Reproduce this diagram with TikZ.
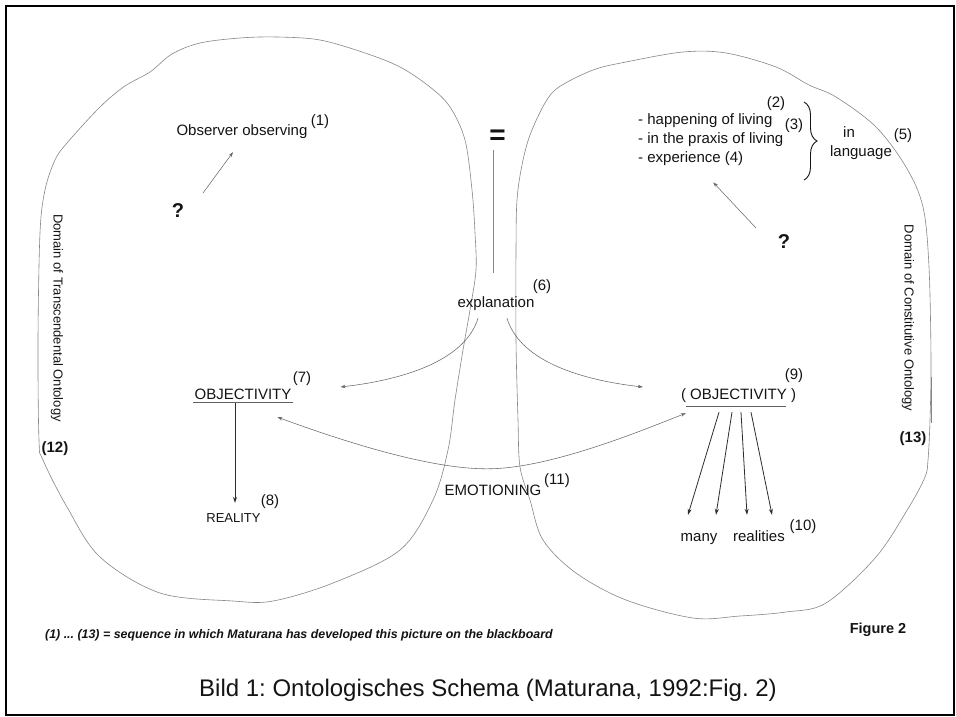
\documentclass[tikz,border=0pt]{standalone}
\usepackage{fontspec}
\setmainfont{Liberation Sans}
\usepackage{tikz}
\usetikzlibrary{arrows.meta, decorations.pathreplacing}
\frenchspacing
\definecolor{ink}{RGB}{20,20,20}
\definecolor{outline}{RGB}{135,135,135}
\definecolor{arrgray}{RGB}{105,105,105}
\definecolor{darkline}{RGB}{45,45,45}
\newcommand{\fsmain}{\fontsize{15}{19}\selectfont}
\newcommand{\fssmall}{\fontsize{13}{15}\selectfont}
\newcommand{\fsq}{\fontsize{20}{22}\selectfont\bfseries}
\newcommand{\fseq}{\fontsize{28}{30}\selectfont\bfseries}
\newcommand{\fsfoot}{\fontsize{12.4}{14}\selectfont\bfseries\itshape}
\newcommand{\fsfig}{\fontsize{14.5}{16}\selectfont\bfseries}
\newcommand{\fscap}{\fontsize{24}{28}\selectfont}
\tikzset{
  txt/.style={font=\fsmain, text=ink, inner sep=1pt,
    text height=11pt, text depth=3pt},
  listtxt/.style={font=\fsmain, text=ink, inner sep=1pt, align=left},
  smalltxt/.style={font=\fssmall, text=ink, inner sep=1pt,
    text height=9.5pt, text depth=2.5pt},
  numtxt/.style={font=\fsmain, text=ink, inner sep=0pt},
  boldnum/.style={font=\fsmain\bfseries, text=ink, inner sep=0pt},
  qmark/.style={font=\fsq, text=ink, inner sep=0pt,
    text height=15pt, text depth=0pt},
  eqsign/.style={font=\fseq, text=ink, inner sep=0pt},
  domlabel/.style={font=\fssmall, text=ink, inner sep=0pt, rotate=-90},
  blob/.style={draw=outline, line width=0.6pt},
  thinarrow/.style={draw=arrgray, line width=0.55pt,
    -{Stealth[length=5pt,width=3.5pt]}},
  arrow/.style={draw=darkline, line width=0.8pt,
    -{Stealth[length=6pt,width=4pt]}},
  dblarrow/.style={draw=arrgray, line width=0.55pt,
    {Stealth[length=5pt,width=3.5pt]}-{Stealth[length=5pt,width=3.5pt]}},
  uline/.style={draw=darkline!75, line width=1.3pt},
  eqline/.style={draw=outline, double=white, double distance=1pt,
    line width=0.5pt},
  bracestyle/.style={draw=ink, line width=0.9pt, decorate,
    decoration={brace, amplitude=13pt}},
  frame/.style={draw=black, line width=2.5pt},
}

\begin{document}
\begin{tikzpicture}[x=1pt, y=-1pt]

  \fill[white] (0,0) rectangle (956,717);
  \useasboundingbox (0,0) rectangle (956,717);
  \draw[frame] (6,6) rectangle (954,715);

  %% Domains
  \draw[blob] plot[smooth cycle, tension=0.55] coordinates {
    (172,54) (200,43) (240,38) (277,37) (320,40) (365,53) (400,67)
    (430,87) (450,107) (465,140) (472,190) (475,233) (476,270)
    (470,310) (463,350) (455,400) (448,450) (433,500) (400,550)
    (333,583) (273,601) (233,601) (160,593) (100,557) (67,507)
    (43,460) (39,440) (38,340) (40,233) (45,190) (55,160) (67,143)
    (100,107) (125,86) (150,72)};
  \draw[blob] plot[smooth cycle, tension=0.55] coordinates {
    (559,87) (593,70) (626,62) (683,52) (726,53) (776,67) (809,85)
    (836,97) (876,127) (906,167) (923,207) (929,267) (931,360)
    (930,420) (928,460) (925,477) (909,507) (876,557) (826,603)
    (786,612) (740,616) (693,618) (626,600) (576,573) (543,540)
    (530,500) (520,467) (518,420) (516,340) (516,250) (517,200)
    (522,165) (530,135) (545,103)};
  \draw[blob, line width=1pt] (931,377) -- (931,423);

  \node[domlabel] (domT) at (57,318) {Domain of Transcendental Ontology};
  \node[domlabel] (domC) at (908,318) {Domain of Constitutive Ontology};
  \node[boldnum, anchor=base] (n12) at (55,452) {(12)};
  \node[boldnum, anchor=base] (n13) at (913,442) {(13)};

  %% Left side
  \node[txt, anchor=base] (obs) at (242,135) {Observer observing};
  \node[numtxt, anchor=base] (n1) at (320,125) {(1)};
  \node[qmark, anchor=base] (q1) at (178,217) {?};

  \node[txt, anchor=base] (obj7) at (243,399) {OBJECTIVITY};
  \node[numtxt, anchor=base] (n7) at (302,382) {(7)};
  \node[smalltxt, anchor=base] (real) at (233.5,522) {REALITY};
  \node[numtxt, anchor=base] (n8) at (270,505) {(8)};

  %% Right side
  \node[listtxt, anchor=north west] (lst) at (637,112)
    {- happening of living\\- in the praxis of living\\- experience (4)};
  \node[numtxt, anchor=base] (n2) at (776,107) {(2)};
  \node[numtxt, anchor=base] (n3) at (794,129) {(3)};
  \coordinate (btop) at (804,102);
  \coordinate (bbot) at (804,180);
  \node[txt, anchor=base] (lin) at (849,137) {in};
  \node[txt, anchor=base] (llang) at (861,156) {language};
  \node[numtxt, anchor=base] (n5) at (903,139) {(5)};
  \node[qmark, anchor=base] (q2) at (784,248) {?};

  \node[txt, anchor=base] (obj9) at (738.5,399) {( OBJECTIVITY )};
  \node[numtxt, anchor=base] (n9) at (794,379) {(9)};
  \node[txt, anchor=base] (many) at (699,541) {many};
  \node[txt, anchor=base] (realities) at (759,541) {realities};
  \node[numtxt, anchor=base] (n10) at (803,530) {(10)};

  %% Middle
  \node[eqsign] (eq) at (497.5,137) {=};
  \node[txt, anchor=base] (exp) at (496,307) {explanation};
  \node[numtxt, anchor=base] (n6) at (542,290) {(6)};
  \node[txt, anchor=base] (emo) at (493,495) {EMOTIONING};
  \node[numtxt, anchor=base] (n11) at (557,484) {(11)};

  %% Connectors
  \draw[thinarrow] ([xshift=25pt,yshift=16.5pt]q1.center)
    -- ([xshift=-9pt,yshift=-13pt]obs.south);
  \draw[thinarrow] ([xshift=-28pt,yshift=12.5pt]q2.center)
    -- ([xshift=2.5pt,yshift=-16pt]lst.south);
  \draw[bracestyle] (btop) -- (bbot);
  \draw[eqline] ([xshift=-3.5pt,yshift=-13pt]eq.center)
    -- ([xshift=-2pt,yshift=22pt]exp.north);

  \draw[thinarrow] ([xshift=-18pt,yshift=-7pt]exp.south)
    .. controls (466,358) and (410,379) .. ([xshift=48pt,yshift=8pt]obj7.east);
  \draw[thinarrow] ([xshift=11pt,yshift=-7pt]exp.south)
    .. controls (519,358) and (573,379) .. ([xshift=-37pt,yshift=8pt]obj9.west);

  \draw[uline] ([yshift=1pt]obj7.south west) -- ([yshift=1pt]obj7.south east);
  \draw[uline] ([xshift=6pt,yshift=-3pt]obj9.south west)
    -- ([xshift=-11pt,yshift=-3pt]obj9.south east);

  \draw[arrow] ([xshift=-8pt]obj7.south) -- ([xshift=1.5pt,yshift=8.5pt]real.north);
  \foreach \sx/\tgt/\ex in {-19.5/many/-11, -6.5/many/17,
      2.5/realities/-12, 12.5/realities/13}
    \draw[arrow] ([xshift=\sx pt,yshift=-9pt]obj9.south)
      -- ([xshift=\ex pt,yshift=14pt]\tgt.north);

  \draw[dblarrow] ([xshift=-15pt,yshift=-14pt]obj7.south east)
    .. controls (337,439) and (427,469) .. ([xshift=-6pt,yshift=14pt]emo.north)
    .. controls (547,469) and (636,433) .. ([xshift=6pt,yshift=-10pt]obj9.south west);

  %% Notes and caption
  \node[font=\fsfoot, text=ink, inner sep=0pt, anchor=base west] (note) at (45,638)
    {(1) ... (13) = sequence in which Maturana has developed this picture on the blackboard};
  \node[font=\fsfig, text=ink, inner sep=0pt, anchor=base] (fig) at (878,633) {Figure 2};
  \node[font=\fscap, text=ink, inner sep=0pt, anchor=base] (cap) at (488,696)
    {Bild 1: Ontologisches Schema (Maturana, 1992:Fig. 2)};

\end{tikzpicture}
\end{document}
